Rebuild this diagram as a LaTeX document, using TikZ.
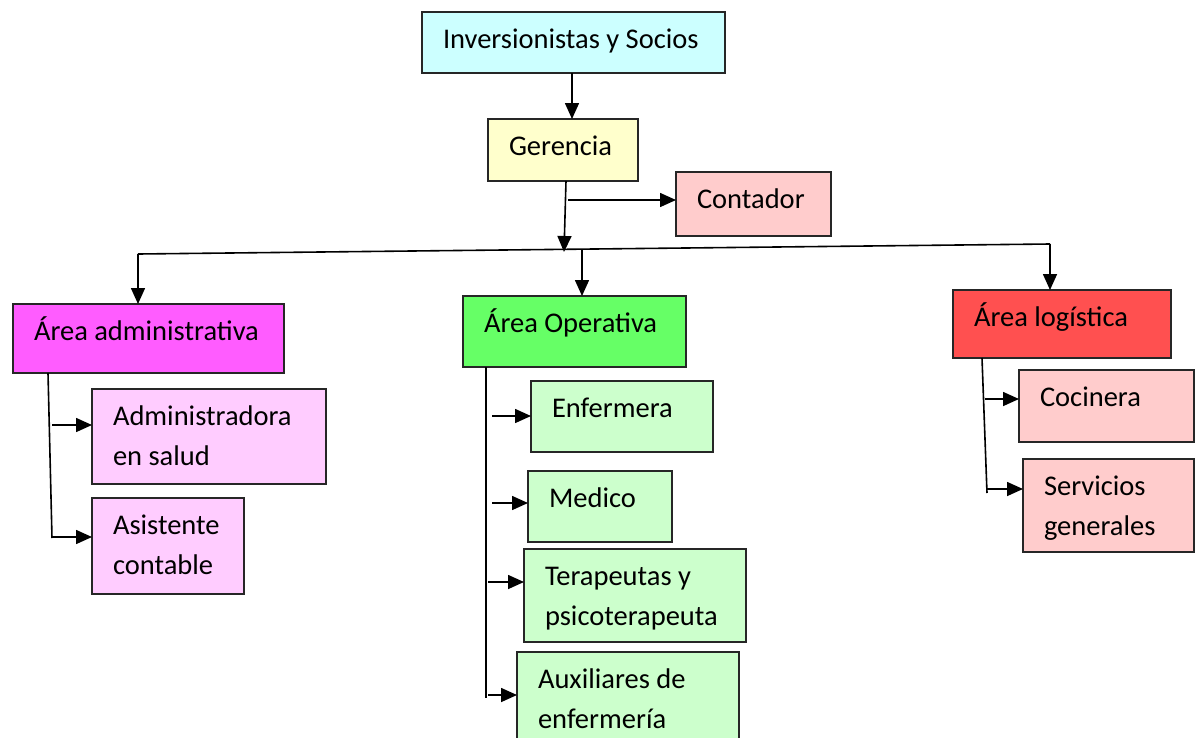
\documentclass[tikz,border=0pt]{standalone}
\usepackage{fontspec}
\setmainfont{Carlito}
\usetikzlibrary{arrows.meta}
\definecolor{cInv}{HTML}{CCFFFF}
\definecolor{cYel}{HTML}{FFFFCC}
\definecolor{cPink}{HTML}{FFCCCC}
\definecolor{cMag}{HTML}{FF5CFF}
\definecolor{cLPink}{HTML}{FFCCFF}
\definecolor{cGreen}{HTML}{66FF66}
\definecolor{cLGreen}{HTML}{CCFFCC}
\definecolor{cRed}{HTML}{FF5050}
\hbadness=10000
\newcommand{\bxt}[3]{\parbox[c][#2][t]{#1}{\raggedright\leftskip=21pt\relax\fontsize{28.5pt}{40pt}\selectfont\leavevmode\rule{0pt}{36pt}#3}}
\begin{document}
\begin{tikzpicture}[x=1pt,y=-1pt,
  bx/.style={draw=black!85, line width=1.3pt, inner sep=0pt, outer sep=0pt, anchor=north west},
  arr/.style={line width=1.6pt, -{Triangle[length=16pt,width=14pt]}},
  ln/.style={line width=1.6pt}]
\useasboundingbox (0,0) rectangle (1195,737);
\clip (0,0) rectangle (1195,737);
% boxes
\node[bx, fill=cInv] (inv) at (422,12) {\bxt{303pt}{61pt}{Inversionistas y Socios}};
\node[bx, fill=cYel] (ger) at (488,119) {\bxt{150pt}{62pt}{Gerencia}};
\node[bx, fill=cPink] (cont) at (676,172) {\bxt{155pt}{64pt}{Contador}};
\node[bx, fill=cMag] (adm) at (13,304) {\bxt{271pt}{69pt}{Área administrativa}};
\node[bx, fill=cLPink] (adm1) at (92,389) {\bxt{234pt}{95pt}{Administradora\\en salud}};
\node[bx, fill=cLPink] (adm2) at (92,498) {\bxt{152pt}{96pt}{Asistente\\contable}};
\node[bx, fill=cGreen] (ope) at (463,296) {\bxt{223pt}{71pt}{Área Operativa}};
\node[bx, fill=cLGreen] (ope1) at (531,381) {\bxt{182pt}{71pt}{Enfermera}};
\node[bx, fill=cLGreen] (ope2) at (528,471) {\bxt{144pt}{71pt}{Medico}};
\node[bx, fill=cLGreen] (ope3) at (524,549) {\bxt{222pt}{93pt}{Terapeutas y\\psicoterapeuta}};
\node[bx, fill=cLGreen] (ope4) at (517,652) {\bxt{222pt}{110pt}{Auxiliares de\\enfermería}};
\node[bx, fill=cRed] (log) at (953,290) {\bxt{218pt}{68pt}{Área logística}};
\node[bx, fill=cPink] (log1) at (1019,370) {\bxt{175pt}{72pt}{Cocinera}};
\node[bx, fill=cPink] (log2) at (1023,459) {\bxt{171pt}{93pt}{Servicios\\generales}};
% top connectors
\coordinate (xa) at (572,0);
\draw[arr] (inv.south -| xa) -- (ger.north -| xa);
\coordinate (gx) at (566,0);
\coordinate (gtip) at (564,252);
\draw[arr] (ger.south -| gx) -- (gtip);
\coordinate (cb) at (568,200);
\draw[arr] (cb) -- (cb -| cont.west);
% bus
\coordinate (busL) at (138,254);
\coordinate (busM) at (582,249);
\coordinate (busR) at (1050,244);
\draw[ln] (busL) -- (busR);
\draw[arr] (busL) -- (busL |- adm.north);
\draw[arr] (busM) -- (busM |- ope.north);
\draw[arr] (busR) -- (busR |- log.north);
% left branch
\coordinate (a0) at (48,0);
\coordinate (a9) at (52,538);
\draw[ln] (adm.south -| a0) -- (a9);
\coordinate (a1) at (52,425);
\coordinate (a2) at (52,537);
\draw[arr] (a1) -- (a1 -| adm1.west);
\draw[arr] (a2) -- (a2 -| adm2.west);
% middle branch
\coordinate (o0) at (486,0);
\coordinate (o9) at (486,698);
\draw[ln] (ope.south -| o0) -- (o9);
\coordinate (o1) at (492,416);
\coordinate (o2) at (492,503);
\coordinate (o3) at (488,582);
\coordinate (o4) at (488,695);
\draw[arr] (o1) -- (o1 -| ope1.west);
\draw[arr] (o2) -- (o2 -| ope2.west);
\draw[arr] (o3) -- (o3 -| ope3.west);
\draw[arr] (o4) -- (o4 -| ope4.west);
% right branch
\coordinate (l0) at (982,0);
\coordinate (l9) at (987,493);
\draw[ln] (log.south -| l0) -- (l9);
\coordinate (l1) at (985,399);
\coordinate (l2) at (987,489);
\draw[arr] (l1) -- (l1 -| log1.west);
\draw[arr] (l2) -- (l2 -| log2.west);
\end{tikzpicture}
\end{document}
